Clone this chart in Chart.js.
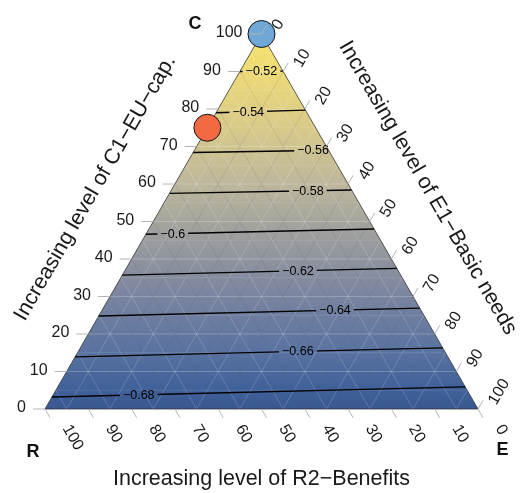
<!DOCTYPE html>
<html>
<head>
<meta charset="utf-8">
<script src="https://cdn.jsdelivr.net/npm/chart.js@4/dist/chart.umd.min.js"></script>
<style>
  html, body { margin: 0; padding: 0; background: #ffffff; }
  #wrap { width: 521px; height: 493px; position: relative; }
</style>
</head>
<body>
<div id="wrap"><canvas id="tern"></canvas></div>
<script>
// ---- data -------------------------------------------------------------
// contour levels of the fitted surface
const contourLevels  = [-0.68, -0.66, -0.64, -0.62, -0.60, -0.58, -0.56, -0.54, -0.52];
// C share (%) where each contour meets the R–C edge (E = 0) and the C–E edge (R = 0)
const contourCLeft   = [3.2, 13.9, 24.8, 35.7, 46.6, 57.5, 68.4, 79.0, 90.0];
const contourCRight  = [5.9, 16.3, 26.9, 37.5, 48.0, 58.4, 69.0, 79.7, 90.1];
// position of each contour label along its line (0 = left end, 1 = right end)
const contourLabelAt = [0.21, 0.606, 0.736, 0.64, 0.118, 0.76, 0.885, 0.36, 0.5];

// highlighted compositions, in % of C, E and R
const pointC = [100, 75];
const pointE = [0, 0];
const pointR = [0, 25];
const pointColors = ['#6fa8d6', '#f26a43'];

// tick values shared by the three axes
const tickValues = [0, 10, 20, 30, 40, 50, 60, 70, 80, 90, 100];

const titleC = 'Increasing level of C1\u2212EU\u2212cap.';
const titleE = 'Increasing level of E1\u2212Basic needs';
const titleR = 'Increasing level of R2\u2212Benefits';

// fill colour by C share
const fillStopsC      = [0, 5, 15, 30, 45, 60, 75, 90, 100];
const fillStopsColors = ['#3a5890', '#3f6099', '#5872a0', '#7a84a0', '#9a9c9e', '#bdb79c', '#d9ca8a', '#ecda76', '#f8e46a'];

const FONT = "'Liberation Sans', Arial, Helvetica, sans-serif";

// ternary (C, E) -> cartesian value space: x = E + C/2, y = C (both as fractions)
function toXY(C, E) { return { x: E / 100 + C / 200, y: C / 100 }; }
function px(chart, C, E) {
  const v = toXY(C, E);
  return { x: chart.scales.x.getPixelForValue(v.x), y: chart.scales.y.getPixelForValue(v.y) };
}
const fmtLevel = v => String(+v.toFixed(2)).replace('-', '\u2212');

// ---- datasets --------------------------------------------------------
const datasets = [];
contourLevels.forEach((lv, i) => {
  datasets.push({
    label: fmtLevel(lv),
    kind: 'contour',
    idx: i,
    data: [toXY(contourCLeft[i], 0), toXY(contourCRight[i], 100 - contourCRight[i])],
    showLine: true,
    borderColor: '#000000',
    borderWidth: 1.5,
    pointRadius: 0,
    order: 2
  });
});
datasets.push({
  label: 'points',
  kind: 'points',
  data: pointC.map((c, i) => toXY(c, pointE[i])),
  pointRadius: 13.5,
  pointHoverRadius: 13.5,
  pointBackgroundColor: pointColors,
  pointBorderColor: '#111111',
  pointBorderWidth: 1,
  showLine: false,
  clip: false,
  order: 1
});

function labelInfo(chart, i) {
  const a = px(chart, contourCLeft[i], 0);
  const b = px(chart, contourCRight[i], 100 - contourCRight[i]);
  const t = contourLabelAt[i];
  return { x: a.x + t * (b.x - a.x), y: a.y + t * (b.y - a.y) };
}

// ---- plugins ---------------------------------------------------------
const ternaryPlugin = {
  id: 'ternary',
  beforeDatasetsDraw(chart) {
    const ctx = chart.ctx;
    const top = px(chart, 100, 0), left = px(chart, 0, 0), right = px(chart, 0, 100);
    ctx.save();
    ctx.beginPath();
    ctx.moveTo(top.x, top.y); ctx.lineTo(left.x, left.y); ctx.lineTo(right.x, right.y); ctx.closePath();
    const g = ctx.createLinearGradient(0, left.y, 0, top.y);
    fillStopsC.forEach((c, k) => g.addColorStop(c / 100, fillStopsColors[k]));
    ctx.fillStyle = g;
    ctx.fill();
    ctx.clip();
    // grid lines every 5 %, parallel to each edge
    for (let v = 5; v < 100; v += 5) {
      const major = v % 10 === 0;
      const segs = [
        [px(chart, v, 0), px(chart, v, 100 - v)],            // constant C
        [px(chart, 0, v), px(chart, 100 - v, v)],            // constant E
        [px(chart, 0, 100 - v), px(chart, 100 - v, 0)]       // constant R
      ];
      segs.forEach((s, k) => {
        ctx.beginPath();
        ctx.moveTo(s[0].x, s[0].y); ctx.lineTo(s[1].x, s[1].y);
        if (k === 0) {
          ctx.strokeStyle = major ? 'rgba(255,255,255,0.28)' : 'rgba(255,255,255,0.18)';
        } else {
          ctx.strokeStyle = major ? 'rgba(90,90,100,0.20)' : 'rgba(255,255,255,0.30)';
        }
        ctx.lineWidth = major ? 0.8 : 0.6;
        ctx.stroke();
      });
    }
    ctx.restore();
    // outline
    ctx.save();
    ctx.beginPath();
    ctx.moveTo(top.x, top.y); ctx.lineTo(left.x, left.y); ctx.lineTo(right.x, right.y); ctx.closePath();
    ctx.strokeStyle = '#333333';
    ctx.lineWidth = 0.8;
    ctx.stroke();
    ctx.restore();
  },
  beforeDatasetDraw(chart, args) {
    const ds = chart.data.datasets[args.index];
    if (ds.kind !== 'contour') return;
    const ctx = chart.ctx;
    ctx.save();
    ctx.font = '12.5px ' + FONT;
    const p = labelInfo(chart, ds.idx);
    const w = ctx.measureText(ds.label).width + 6;
    ctx.beginPath();
    ctx.rect(0, 0, chart.width, chart.height);
    ctx.rect(p.x - w / 2, p.y - 8, w, 16);
    ctx.clip('evenodd');
  },
  afterDatasetDraw(chart, args) {
    const ds = chart.data.datasets[args.index];
    if (ds.kind !== 'contour') return;
    const ctx = chart.ctx;
    ctx.restore();
    const p = labelInfo(chart, ds.idx);
    ctx.save();
    ctx.font = '12.5px ' + FONT;
    ctx.fillStyle = '#000000';
    ctx.textAlign = 'center';
    ctx.textBaseline = 'middle';
    ctx.fillText(ds.label, p.x, p.y + 0.5);
    ctx.restore();
  },
  afterDraw(chart) {
    const ctx = chart.ctx;
    ctx.save();
    ctx.strokeStyle = '#b4b4b4';
    ctx.lineWidth = 1;
    ctx.fillStyle = '#1a1a1a';
    ctx.font = '16px ' + FONT;
    const c60 = Math.cos(Math.PI / 3), s60 = Math.sin(Math.PI / 3);
    tickValues.forEach(v => {
      // C axis (left edge)
      let p = px(chart, v, 0);
      ctx.beginPath(); ctx.moveTo(p.x, p.y); ctx.lineTo(p.x - 12, p.y); ctx.stroke();
      ctx.textAlign = 'right'; ctx.textBaseline = 'middle';
      ctx.fillText(String(v), p.x - 19, p.y - 1);
      // E axis (right edge)
      p = px(chart, 100 - v, v);
      ctx.beginPath(); ctx.moveTo(p.x, p.y); ctx.lineTo(p.x + 10 * c60, p.y - 10 * s60); ctx.stroke();
      ctx.save();
      ctx.translate(p.x + 14.5, p.y - 5.5);
      ctx.rotate(-Math.PI / 3);
      ctx.textAlign = 'left'; ctx.textBaseline = 'middle';
      ctx.fillText(String(v), 0, 0);
      ctx.restore();
      // R axis (bottom edge)
      p = px(chart, 0, 100 - v);
      ctx.beginPath(); ctx.moveTo(p.x, p.y); ctx.lineTo(p.x + 10 * c60, p.y + 10 * s60); ctx.stroke();
      ctx.save();
      ctx.translate(p.x + 21, p.y + 17);
      ctx.rotate(Math.PI / 3);
      ctx.textAlign = 'left'; ctx.textBaseline = 'middle';
      ctx.fillText(String(v), 0, 0);
      ctx.restore();
    });

    // vertex letters
    ctx.font = 'bold 18px ' + FONT;
    ctx.textAlign = 'center'; ctx.textBaseline = 'middle';
    ctx.fillStyle = '#111111';
    const top = px(chart, 100, 0), left = px(chart, 0, 0), right = px(chart, 0, 100);
    ctx.fillText('C', top.x - 66.5, top.y - 10);
    ctx.fillText('R', left.x - 12, left.y + 43);
    ctx.fillText('E', right.x + 24.5, right.y + 41);

    // axis titles, set parallel to their edges
    ctx.font = '21.5px ' + FONT;
    ctx.fillStyle = '#1a1a1a';
    const midL = { x: (top.x + left.x) / 2, y: (top.y + left.y) / 2 };
    const midR = { x: (top.x + right.x) / 2, y: (top.y + right.y) / 2 };
    ctx.save();
    ctx.translate(midL.x - 67 * s60, midL.y - 67 * c60);
    ctx.rotate(-Math.PI / 3);
    ctx.fillText(titleC, 0, 0);
    ctx.restore();
    ctx.save();
    ctx.translate(midR.x + 67 * s60, midR.y - 67 * c60);
    ctx.rotate(Math.PI / 3);
    ctx.fillText(titleE, 0, 0);
    ctx.restore();
    ctx.textBaseline = 'alphabetic';
    ctx.fillText(titleR, (left.x + right.x) / 2, left.y + 76);
    ctx.restore();
  }
};

new Chart(document.getElementById('tern'), {
  type: 'scatter',
  data: { datasets },
  options: {
    responsive: true,
    maintainAspectRatio: false,
    animation: false,
    events: [],
    layout: { padding: { left: 45, right: 43, top: 34, bottom: 84 } },
    scales: {
      x: { type: 'linear', min: 0, max: 1, display: false },
      y: { type: 'linear', min: 0, max: 1, display: false }
    },
    plugins: { legend: { display: false }, tooltip: { enabled: false } }
  },
  plugins: [ternaryPlugin]
});
</script>
</body>
</html>
